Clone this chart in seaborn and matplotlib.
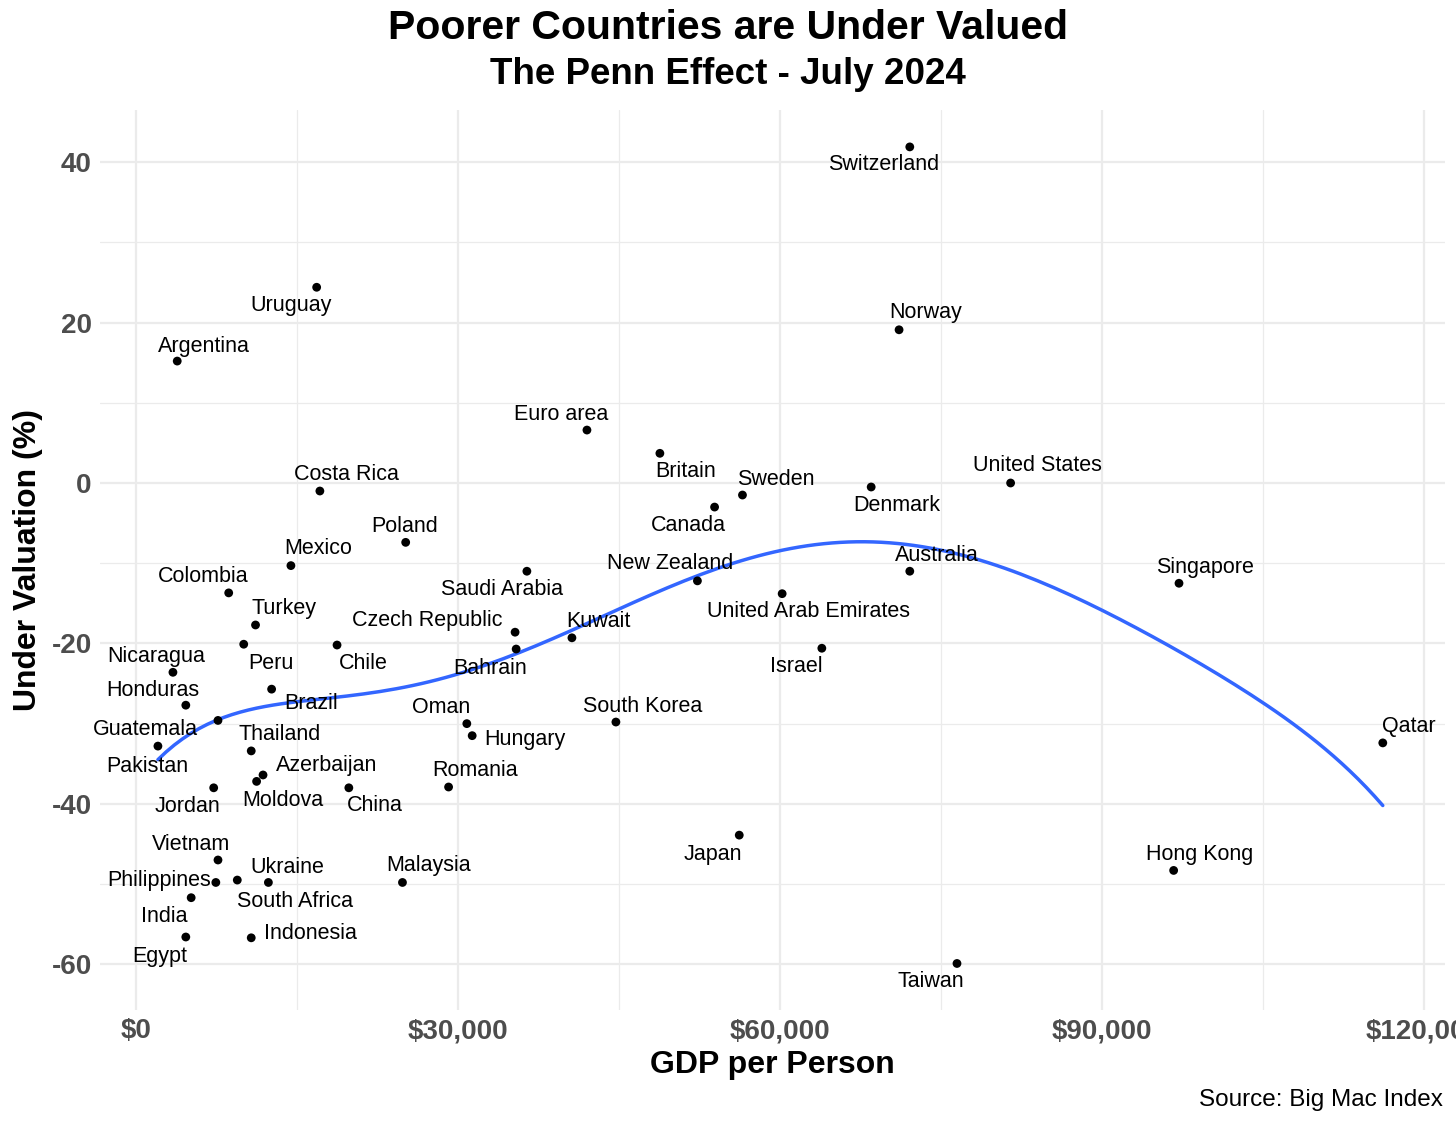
import numpy as np
import pandas as pd
import matplotlib
matplotlib.use("Agg")
import matplotlib.pyplot as plt
import seaborn as sns

countries = ["Switzerland", "Uruguay", "Argentina", "Norway", "Euro area", "Britain",
             "Costa Rica", "Sweden", "Denmark", "United States", "Canada", "Poland",
             "Mexico", "Saudi Arabia", "New Zealand", "Australia", "Singapore", "Colombia",
             "United Arab Emirates", "Turkey", "Czech Republic", "Kuwait", "Peru", "Chile",
             "Bahrain", "Israel", "Nicaragua", "Brazil", "Honduras", "Guatemala", "Thailand",
             "Oman", "Hungary", "South Korea", "Qatar", "Pakistan", "Azerbaijan", "Moldova",
             "Jordan", "China", "Romania", "Japan", "Vietnam", "Hong Kong", "Philippines",
             "Ukraine", "South Africa", "Malaysia", "India", "Egypt", "Indonesia", "Taiwan"]
gdp = [72100, 16800, 3800, 71100, 42000, 48800, 17100, 56500, 68500, 81500, 53900, 25100,
       14400, 36400, 52300, 72100, 97200, 8600, 60200, 11100, 35300, 40600, 10000, 18700,
       35400, 63900, 3400, 12600, 4600, 7600, 10700, 30800, 31300, 44700, 116200, 2000,
       11800, 11200, 7200, 19800, 29100, 56200, 7600, 96700, 7400, 9400, 12300, 24800,
       5100, 4600, 10700, 76500]
valuation = [41.9, 24.4, 15.2, 19.1, 6.6, 3.7, -1.0, -1.5, -0.5, 0.0, -3.0, -7.4, -10.3,
             -11.0, -12.2, -11.0, -12.5, -13.7, -13.8, -17.7, -18.6, -19.3, -20.1, -20.2,
             -20.7, -20.6, -23.6, -25.7, -27.7, -29.6, -33.4, -30.0, -31.5, -29.8, -32.4,
             -32.8, -36.4, -37.2, -38.0, -38.0, -37.9, -43.9, -47.0, -48.3, -49.8, -49.5,
             -49.8, -49.8, -51.7, -56.6, -56.7, -59.9]

# label offsets in pixels (dx right, dy down)
label_offsets = {
    "Switzerland": (-26, 18), "Uruguay": (-26, 18), "Argentina": (27, -15), "Norway": (27, -17),
    "Euro area": (-26, -16), "Britain": (26, 18), "Costa Rica": (27, -17), "Sweden": (33, -16),
    "Denmark": (26, 18), "United States": (27, -17), "Canada": (-26, 18), "Poland": (-1, -16),
    "Mexico": (27, -17), "Saudi Arabia": (-25, 18), "New Zealand": (-27, -17),
    "Australia": (27, -16), "Singapore": (26, -16), "Colombia": (-26, -16),
    "United Arab Emirates": (26, 18), "Turkey": (28, -16), "Czech Republic": (-88, -12),
    "Kuwait": (27, -16), "Peru": (27, 19), "Chile": (26, 18), "Bahrain": (-26, 19),
    "Israel": (-26, 18), "Nicaragua": (-17, -16), "Brazil": (40, 14), "Honduras": (-33, -15),
    "Guatemala": (-73, 9), "Thailand": (28, -16), "Oman": (-26, -16), "Hungary": (53, 4),
    "South Korea": (27, -16), "Qatar": (26, -16), "Pakistan": (-11, 20),
    "Azerbaijan": (64, -9), "Moldova": (26, 19), "Jordan": (-26, 19), "China": (26, 18),
    "Romania": (26, -17), "Japan": (-26, 19), "Vietnam": (-27, -15), "Hong Kong": (26, -16),
    "Philippines": (-57, -2), "Ukraine": (50, -13), "South Africa": (27, 19),
    "Malaysia": (26, -17), "India": (-27, 19), "Egypt": (-26, 19), "Indonesia": (59, -4),
    "Taiwan": (-26, 18),
}

df = pd.DataFrame({"country": countries, "gdp": gdp, "val": valuation})


def loess(x, y, xs, span=0.75):
    # local quadratic fit with tricube weights, like R's loess defaults
    n = len(x)
    k = int(np.ceil(span * n))
    out = []
    for x0 in xs:
        d = np.abs(x - x0)
        h = np.sort(d)[k - 1]
        w = np.clip(1 - (d / h) ** 3, 0, None) ** 3
        X = np.column_stack([np.ones(n), x - x0, (x - x0) ** 2])
        W = np.sqrt(w)
        beta = np.linalg.lstsq(X * W[:, None], y * W, rcond=None)[0]
        out.append(beta[0])
    return np.array(out)


# fit at a few vertices and interpolate smoothly, like R's loess surface="interpolate"
xv = np.linspace(df.gdp.min(), df.gdp.max(), 9)
yv = loess(df.gdp.values.astype(float), df.val.values, xv)
xs = np.linspace(df.gdp.min(), df.gdp.max(), 150)
ys = np.polyval(np.polyfit(xv, yv, 6), xs)

sns.set_theme(style="whitegrid")
plt.rcParams["font.family"] = ["Liberation Sans", "DejaVu Sans"]

fig = plt.figure(figsize=(14.56, 11.25), dpi=100)
ax = fig.add_axes([100 / 1456, 1 - 1010 / 1125, 1345 / 1456, 900 / 1125])

ax.plot(xs, ys, color="#3366FF", lw=2.5, zorder=2)
sns.scatterplot(data=df, x="gdp", y="val", color="black", s=40, edgecolor="none", ax=ax, zorder=3)
for _, r in df.iterrows():
    dx, dy = label_offsets[r.country]
    ax.annotate(r.country, (r.gdp, r.val), xytext=(dx, -dy), textcoords="offset pixels",
                ha="center", va="center", fontsize=15.5, color="black")

ax.set_xlim(-3400, 122000)
ax.set_ylim(-65.7, 46.5)
ax.set_xticks([0, 30000, 60000, 90000, 120000])
ax.set_xticklabels(["$0", "$30,000", "$60,000", "$90,000", "$120,000"])
ax.set_yticks([-60, -40, -20, 0, 20, 40])
ax.set_yticklabels(["-60", "-40", "-20", "0", "20", "40"])
ax.set_xticks([15000, 45000, 75000, 105000], minor=True)
ax.set_yticks([-50, -30, -10, 10, 30], minor=True)
ax.grid(which="major", color="#EBEBEB", lw=1.6)
ax.grid(which="minor", color="#EBEBEB", lw=0.9)
ax.tick_params(which="both", length=0, labelsize=20, labelcolor="#4D4D4D", pad=6)
for t in ax.get_xticklabels() + ax.get_yticklabels():
    t.set_fontweight("bold")
for s in ax.spines.values():
    s.set_visible(False)
ax.set_facecolor("white")

ax.set_xlabel("GDP per Person", fontsize=23, fontweight="bold", labelpad=4, color="black")
ax.set_ylabel("Under Valuation (%)", fontsize=23, fontweight="bold", labelpad=6, color="black")
fig.text(0.5, 1 - 28 / 1125, "Poorer Countries are Under Valued", ha="center", va="center",
         fontsize=29.5, fontweight="bold", color="black")
fig.text(0.5, 1 - 75 / 1125, "The Penn Effect - July 2024", ha="center", va="center",
         fontsize=26.5, fontweight="bold", color="black")
fig.text(1443 / 1456, 1 - 1100 / 1125, "Source: Big Mac Index", ha="right", va="center",
         fontsize=17.5, color="black")

fig.savefig("out.png", dpi=100, facecolor="white")
